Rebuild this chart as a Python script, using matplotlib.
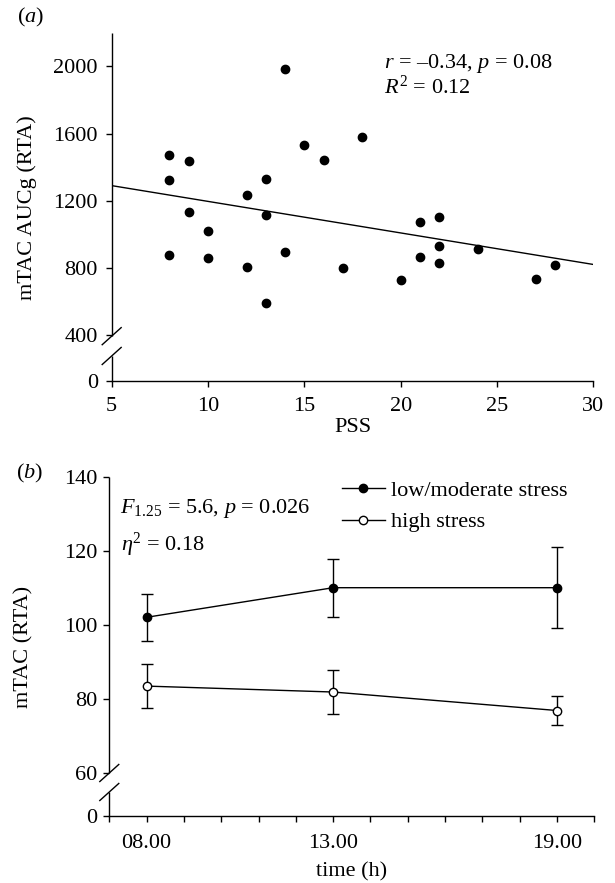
import numpy as np
import matplotlib
matplotlib.use('Agg')
import matplotlib.pyplot as plt
from matplotlib.lines import Line2D
from matplotlib.ticker import FixedLocator, NullFormatter, FixedFormatter

plt.rcParams['font.family'] = ['Liberation Serif', 'DejaVu Serif']
plt.rcParams['mathtext.fontset'] = 'custom'
plt.rcParams['mathtext.rm'] = 'Liberation Serif'
plt.rcParams['mathtext.it'] = 'Liberation Serif:italic'
plt.rcParams['mathtext.bf'] = 'Liberation Serif:bold'

FS = 16

# ---------------- data: panel (a) ----------------
pss = [8, 8, 8, 9, 9, 10, 10, 12, 12, 13, 13, 13, 14, 14, 15, 16, 17, 18,
       20, 21, 21, 22, 22, 22, 24, 27, 28]
auc = [1474, 1323, 875, 1435, 1131, 1018, 857, 1232, 804, 1329, 1113, 589,
       1984, 897, 1534, 1442, 800, 1581, 728, 1073, 865, 1101, 929, 831,
       913, 734, 819]
fit_intercept = 1384.0
fit_slope = -18.8
a_yticks = [0, 400, 800, 1200, 1600, 2000]
a_xticks = [5, 10, 15, 20, 25, 30]

# ---------------- data: panel (b) ----------------
times = [8, 13, 19]
time_labels = ['08.00', '13.00', '19.00']
low_mean = [102.0, 110.0, 110.0]
low_err = [6.3, 7.8, 11.0]
high_mean = [83.4, 81.8, 76.8]
high_err = [5.9, 6.0, 3.9]
b_yticks = [0, 60, 80, 100, 120, 140]
series_labels = ['low/moderate stress', 'high stress']


def make_scale(brk, k):
    def fwd(y):
        y = np.asarray(y, dtype=float)
        return np.where(y >= brk, y, brk - (brk - y) * k)

    def inv(t):
        t = np.asarray(t, dtype=float)
        return np.where(t >= brk, t, brk - (brk - t) / k)
    return fwd, inv


fig = plt.figure(figsize=(6.15, 8.83), dpi=100)
axA = fig.add_axes([0.1816, 0.5689, 0.7834, 0.3938])
axB = fig.add_axes([0.1777, 0.0762, 0.7886, 0.3839])


def style_axis(ax, upper_start, lower_end, W, H):
    for s in ['top', 'right', 'left']:
        ax.spines[s].set_visible(False)
    ax.spines['bottom'].set_linewidth(1.0)
    kw = dict(transform=ax.transAxes, color='k', lw=1.0, clip_on=False,
              solid_capstyle='butt')
    ax.plot([0, 0], [upper_start, 1], **kw)
    ax.plot([0, 0], [0, lower_end], **kw)
    dx = 10.0 / W
    dy = 9.0 / H
    for yc in (upper_start, lower_end):
        ax.plot([-dx, dx], [yc - dy, yc + dy], **kw)
    ax.tick_params(axis='both', which='both', direction='out', length=4,
                   width=1.0, labelsize=FS, color='k')


# ---------------- panel (a) ----------------
fA, iA = make_scale(400, 0.681)
axA.set_yscale('function', functions=(fA, iA))
axA.set_ylim(0, 2200)
axA.set_xlim(5, 30)
axA.plot(pss, auc, 'o', color='k', ms=6.0, clip_on=False, zorder=3)
xs = np.array([5.0, 30.0])
axA.plot(xs, fit_intercept + fit_slope * xs, color='k', lw=1.0)
axA.yaxis.set_major_locator(FixedLocator(a_yticks))
axA.yaxis.set_major_formatter(FixedFormatter([str(v) for v in a_yticks]))
axA.yaxis.set_minor_locator(FixedLocator([]))
axA.xaxis.set_major_locator(FixedLocator(a_xticks))
style_axis(axA, 0.128, 0.071, 481.8, 347.7)
axA.tick_params(axis='x', pad=8)
axA.tick_params(axis='y', pad=6)
axA.set_ylabel('mTAC AUCg (RTA)', fontsize=FS)
axA.yaxis.set_label_coords(-0.155, 0.497)
axA.set_xlabel('PSS', fontsize=FS)
axA.xaxis.set_label_coords(0.5, -0.136)
axA.xaxis.label.set_va('center')

fig.text(384 / 615, 1 - 68.3 / 883, r'$r$ = –0.34, $p$ = 0.08', fontsize=FS,
         ha='left', va='baseline')
fig.text(384 / 615, 1 - 94 / 883, r'$R^2$ = 0.12', fontsize=FS,
         ha='left', va='baseline')
fig.text(17 / 615, 1 - 22 / 883, r'(${a}$)', fontsize=FS, ha='left', va='baseline')

# ---------------- panel (b) ----------------
fB, iB = make_scale(60, 0.194)
axB.set_yscale('function', functions=(fB, iB))
axB.set_ylim(0, 140)
axB.set_xlim(7, 20)
axB.errorbar(times, low_mean, yerr=low_err, fmt='-o', color='k',
             mfc='k', mec='k', ms=6.0, lw=1.0, elinewidth=1.0,
             capsize=4.2, capthick=1.0, zorder=3)
axB.errorbar(times, high_mean, yerr=high_err, fmt='-o', color='k',
             mfc='white', mec='k', mew=1.0, ms=6.0, lw=1.0,
             elinewidth=1.0, capsize=4.2, capthick=1.0, zorder=3)
axB.yaxis.set_major_locator(FixedLocator(b_yticks))
axB.yaxis.set_major_formatter(FixedFormatter([str(v) for v in b_yticks]))
axB.yaxis.set_minor_locator(FixedLocator([]))
axB.xaxis.set_major_locator(FixedLocator(times))
axB.xaxis.set_major_formatter(FixedFormatter(time_labels))
axB.xaxis.set_minor_locator(FixedLocator([h for h in range(7, 21) if h not in times]))
axB.xaxis.set_minor_formatter(NullFormatter())
style_axis(axB, 0.126, 0.070, 485.0, 339.0)
axB.tick_params(axis='x', which='both', pad=9.5)
axB.tick_params(axis='y', pad=4.5)
axB.set_ylabel('mTAC (RTA)', fontsize=FS)
axB.yaxis.set_label_coords(-0.157, 0.4985)
axB.set_xlabel('time (h)', fontsize=FS)
axB.xaxis.set_label_coords(0.5, -0.166)
axB.xaxis.label.set_va('center')

h1 = Line2D([], [], color='k', lw=1.0, marker='o', ms=6.0, mfc='k', mec='k')
h2 = Line2D([], [], color='k', lw=1.0, marker='o', ms=6.0, mfc='white',
            mec='k', mew=1.0)
axB.legend(handles=[h1, h2], labels=series_labels, loc='upper left',
           bbox_to_anchor=(0.4806, 0.99), frameon=False, fontsize=FS,
           handlelength=1.9, handletextpad=0.3, borderpad=0,
           borderaxespad=0, labelspacing=0.5)

fig.text(120 / 615, 1 - 513.3 / 883, r'$F_{1.25}$ = 5.6, $p$ = 0.026',
         fontsize=FS, ha='left', va='baseline')
fig.text(121 / 615, 1 - 551 / 883, r'$\eta^2$ = 0.18', fontsize=FS,
         ha='left', va='baseline')
fig.text(16 / 615, 1 - 478 / 883, r'(${b}$)', fontsize=FS, ha='left', va='baseline')

fig.savefig('out.png', dpi=100)
